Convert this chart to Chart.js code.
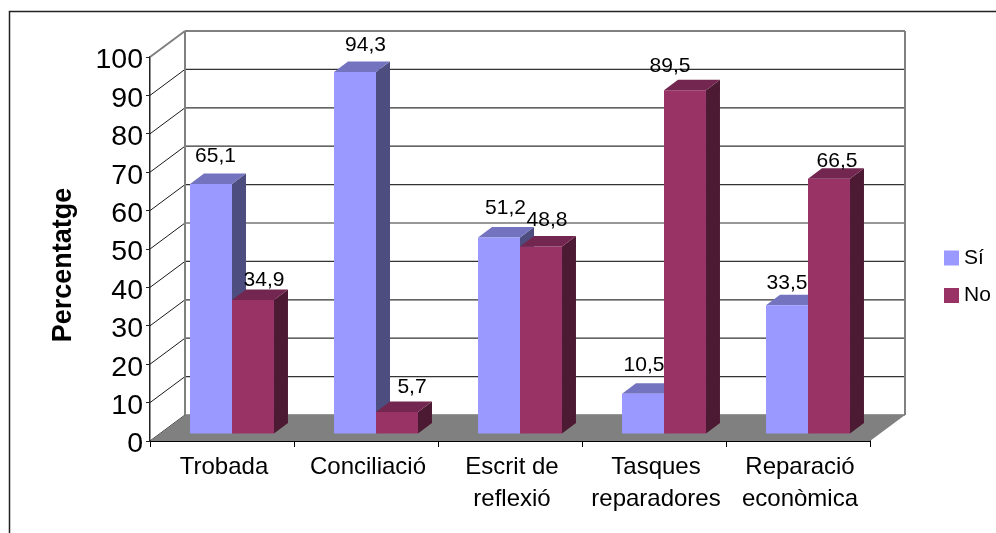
<!DOCTYPE html>
<html>
<head>
<meta charset="utf-8">
<title>Percentatge</title>
<script src="https://cdn.jsdelivr.net/npm/chart.js@4"></script>
<style>
  body { margin: 0; background: #fff; overflow: hidden; }
  canvas { display: block; }
</style>
</head>
<body>
<canvas id="chart" width="996" height="533"></canvas>
<script>
// Dades llegides del gràfic
const categories = ["Trobada", "Conciliació", ["Escrit de", "reflexió"], ["Tasques", "reparadores"], ["Reparació", "econòmica"]];
const siValues = [65.1, 94.3, 51.2, 10.5, 33.5];
const noValues = [34.9, 5.7, 48.8, 89.5, 66.5];
const yTitle = "Percentatge";

// Petits desplaçaments de les etiquetes respecte de la barra
const siLabelDx = [4.5, 10.5, 6.5, 1, 0];
const siLabelDy = [-28, -27, -29, -28, -22];
const noLabelDx = [11, 15, 6, -15, 8];
const noLabelDy = [-20, -25, -26, -24, -17];

const FONT = '"Liberation Sans", Arial, sans-serif';
const WALL = { dx: 35, dy: -26 };   // profunditat de la paret del fons
const BAR_SHIFT = { dx: 10, dy: -7 };
const BAR_DEPTH = { dx: 14, dy: -10.5 };

const faceColors = [
  { top: "#7373BF", side: "#4D4D80" },
  { top: "#732650", side: "#4D1A33" },
];

function line(ctx, x1, y1, x2, y2, color, width) {
  ctx.strokeStyle = color;
  ctx.lineWidth = width;
  ctx.beginPath();
  ctx.moveTo(x1, y1);
  ctx.lineTo(x2, y2);
  ctx.stroke();
}

function poly(ctx, pts, color) {
  ctx.fillStyle = color;
  ctx.beginPath();
  pts.forEach((p, i) => (i ? ctx.lineTo(p[0], p[1]) : ctx.moveTo(p[0], p[1])));
  ctx.closePath();
  ctx.fill();
}

// Cares lateral i superior de les barres d'una sèrie
function drawFaces(chart, index) {
  const ctx = chart.ctx;
  const colors = faceColors[index];
  chart.getDatasetMeta(index).data.forEach((bar) => {
    const left = bar.x - bar.width / 2 + BAR_SHIFT.dx;
    const right = bar.x + bar.width / 2 + BAR_SHIFT.dx;
    const top = bar.y + BAR_SHIFT.dy;
    const bottom = bar.base + BAR_SHIFT.dy;
    const dx = BAR_DEPTH.dx;
    const dy = BAR_DEPTH.dy;
    poly(ctx, [[right, top], [right + dx, top + dy], [right + dx, bottom + dy], [right, bottom]], colors.side);
    poly(ctx, [[left, top], [left + dx, top + dy], [right + dx, top + dy], [right, top]], colors.top);
  });
}

const box3d = {
  id: "box3d",
  beforeDraw(chart) {
    // Marc exterior, talla per la dreta i per sota
    const ctx = chart.ctx;
    ctx.save();
    ctx.strokeStyle = "#222";
    ctx.lineWidth = 1.5;
    ctx.strokeRect(9.5, 11.5, 1200, 800);
    ctx.restore();
  },
  beforeDatasetsDraw(chart) {
    const ctx = chart.ctx;
    const area = chart.chartArea;
    const y = chart.scales.y;
    ctx.save();
    y.ticks.forEach((t) => {
      const py = y.getPixelForValue(t.value);
      const isTop = t.value === 100;
      const color = isTop ? "#808080" : "#1a1a1a";
      line(ctx, area.left + WALL.dx, py + WALL.dy, area.right + WALL.dx, py + WALL.dy, isTop ? "#808080" : "#333", isTop ? 2 : 1.2);
      line(ctx, area.left, py, area.left + WALL.dx, py + WALL.dy, color, isTop ? 2 : 1);
    });
    const backTop = area.top + WALL.dy;
    const backBottom = area.bottom + WALL.dy;
    line(ctx, area.left + WALL.dx, backTop, area.left + WALL.dx, backBottom, "#808080", 2);
    line(ctx, area.right + WALL.dx, backTop, area.right + WALL.dx, backBottom, "#808080", 2);
    poly(ctx, [
      [area.left, area.bottom],
      [area.right, area.bottom],
      [area.right + WALL.dx, backBottom],
      [area.left + WALL.dx, backBottom],
    ], "#808080");
    // Chart.js pinta primer "No" i després "Sí", les cares de "Sí" han de quedar a sota
    drawFaces(chart, 0);
    ctx.restore();
  },
  beforeDatasetDraw(chart) {
    chart.ctx.save();
    chart.ctx.translate(BAR_SHIFT.dx, BAR_SHIFT.dy);
  },
  afterDatasetDraw(chart, args) {
    chart.ctx.restore();
    if (args.index === 1) drawFaces(chart, 1);
  },
  afterDraw(chart) {
    const ctx = chart.ctx;
    ctx.save();
    ctx.fillStyle = "#000";
    ctx.font = "21px " + FONT;
    ctx.textAlign = "center";
    ctx.textBaseline = "middle";
    const shifts = [[siLabelDx, siLabelDy], [noLabelDx, noLabelDy]];
    chart.data.datasets.forEach((ds, i) => {
      chart.getDatasetMeta(i).data.forEach((bar, j) => {
        const text = String(ds.data[j]).replace(".", ",");
        ctx.fillText(text, bar.x + BAR_SHIFT.dx + shifts[i][0][j], bar.y + BAR_SHIFT.dy + shifts[i][1][j]);
      });
    });
    // Llegenda
    chart.data.datasets.forEach((ds, i) => {
      const ly = 258 + i * 37.5;
      ctx.fillStyle = ds.backgroundColor;
      ctx.fillRect(944, ly - 7.5, 15, 15);
      ctx.fillStyle = "#000";
      ctx.textAlign = "left";
      ctx.fillText(ds.label, 964, ly);
    });
    // Títol de l'eix, no va centrat sobre l'eix
    ctx.translate(64, 265);
    ctx.rotate(-Math.PI / 2);
    ctx.textAlign = "center";
    ctx.font = "bold 27px " + FONT;
    ctx.fillText(yTitle, 0, 0);
    ctx.restore();
  },
};

new Chart(document.getElementById("chart"), {
  type: "bar",
  data: {
    labels: categories,
    datasets: [
      { label: "Sí", data: siValues, backgroundColor: "#9999FF" },
      { label: "No", data: noValues, backgroundColor: "#993366" },
    ],
  },
  options: {
    responsive: false,
    animation: false,
    layout: { padding: { top: 57, right: 126, left: 0, bottom: 0 } },
    categoryPercentage: 0.583,
    barPercentage: 1,
    plugins: { legend: { display: false }, tooltip: { enabled: false } },
    scales: {
      x: {
        afterFit(scale) { scale.height = 92; },
        grid: { drawOnChartArea: false, color: "#000", tickLength: 6 },
        border: { color: "#000", width: 2 },
        ticks: {
          color: "#000",
          maxRotation: 0,
          autoSkip: false,
          padding: 4,
          labelOffset: 2,
          font: { family: FONT, size: 24, lineHeight: 1.33 },
        },
      },
      y: {
        min: 0,
        max: 100,
        afterFit(scale) { scale.width = 150; },
        grid: { drawOnChartArea: false, color: "#222", tickLength: 4 },
        border: { color: "#222", width: 1.5 },
        ticks: {
          stepSize: 10,
          color: "#000",
          padding: 3,
          // linia buida al davant per baixar una mica el text
          callback: (value) => ["", String(value)],
          font: { family: FONT, size: 28.5, lineHeight: "7px" },
        },
      },
    },
  },
  plugins: [box3d],
});
</script>
</body>
</html>
